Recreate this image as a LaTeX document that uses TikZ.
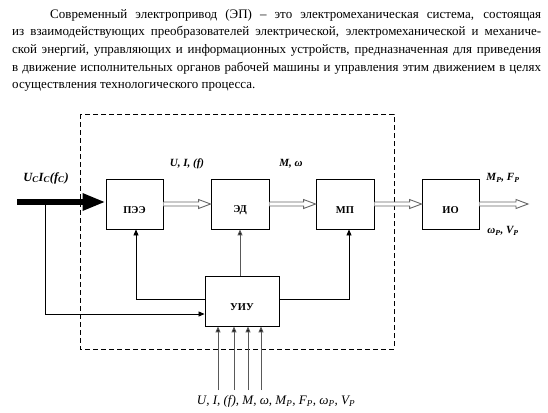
\documentclass[tikz,border=0pt]{standalone}
\usepackage{fontspec}
\setmainfont{Liberation Serif}
\usetikzlibrary{arrows.meta,calc}
\tikzset{
  blk/.style={draw=black,line width=0.9pt,minimum width=57pt,minimum height=50pt,inner sep=0pt,fill=white},
  blklbl/.style={font=\bfseries\fontsize{10.5}{12}\selectfont,inner sep=0pt},
  sig/.style={font=\bfseries\itshape\fontsize{11}{13}\selectfont,inner sep=0pt},
  sigr/.style={font=\itshape\fontsize{13}{15}\selectfont,inner sep=0pt},
  par/.style={font=\fontsize{13}{15}\selectfont,inner sep=0pt,anchor=base west},
  fb/.style={draw=black,line width=0.8pt,-{Triangle[length=6pt,width=5pt]}},
  fbg/.style={draw=black!65,line width=1pt,-{Triangle[length=6pt,width=5pt,fill=black]}},
  hol/.style={draw=black!60,line width=0.9pt,fill=white,line join=miter},
  frame/.style={draw=black,line width=0.8pt,dash pattern=on 5pt off 3pt}
}
\newcommand\holarrow[2]{%
  \draw[hol] ($(#1)+(0,-2)$) -- ($(#2)+(-12,-2)$) -- ($(#2)+(-12,-4.5)$) -- (#2)
     -- ($(#2)+(-12,4.5)$) -- ($(#2)+(-12,2)$) -- ($(#1)+(0,2)$);}
\begin{document}
\begin{tikzpicture}[x=1pt,y=-1pt]
\useasboundingbox (0,0) rectangle (548,412);
% paragraph
\node[par] (l1) at (50,18.5) {\makebox[491pt][s]{Современный электропривод (ЭП) – это электромеханическая система, состоящая}};
\node[par] (l2) at (12,36) {\makebox[529pt][s]{из взаимодействующих преобразователей электрической, электромеханической и механиче-}};
\node[par] (l3) at (12,53.5) {\makebox[529pt][s]{ской энергий, управляющих и информационных устройств, предназначенная для приведения}};
\node[par] (l4) at (12,71) {\makebox[529pt][s]{в движение исполнительных органов рабочей машины и управления этим движением в целях}};
\node[par] (l5) at (12,88.5) {осуществления технологического процесса.};
% frame
\draw[frame] (80,114) rectangle (394,349);
% blocks
\node[blk] (pee) at (134.5,204) {};
\node[blk,minimum width=58pt] (ed) at (240,204) {};
\node[blk,minimum width=58pt] (mp) at (345,204) {};
\node[blk] (io) at (450.5,204) {};
\node[blk,minimum width=74pt] (uiu) at (242,301) {};
\node[blklbl] (peel) at ([yshift=-6pt]pee.center) {ПЭЭ};
\node[blklbl] (edl) at ([yshift=-6pt]ed.center) {ЭД};
\node[blklbl] (mpl) at ([yshift=-6pt]mp.center) {МП};
\node[blklbl] (iol) at ([yshift=-6pt]io.center) {ИО};
\node[blklbl] (uiul) at ([yshift=-6pt]uiu.center) {УИУ};
% thick input
\coordinate (inp) at (17,202);
\coordinate (br) at (45,202);
\draw[line width=6pt,-{Triangle[length=23pt,width=16pt]}] (inp) -- (pee.west |- inp);
\node[sig,font=\bfseries\itshape\fontsize{12.5}{14}\selectfont] (uc) at (46,178) {U\textsubscript{C}I\textsubscript{C}(f\textsubscript{C})};
% hollow arrows
\holarrow{pee.east}{ed.west}
\holarrow{ed.east}{mp.west}
\holarrow{mp.east}{io.west}
\coordinate (out) at (528,204);
\holarrow{io.east}{out}
\node[sig] (s1) at (187,164) {U, I, (f)};
\node[sig] (s2) at (291,164) {M, ω};
\node[sig] (s3) at (503,178) {M\textsubscript{P}, F\textsubscript{P}};
\node[sig] (s4) at (503,231) {ω\textsubscript{P}, V\textsubscript{P}};
% feedback
\coordinate (fbl) at (136,299);
\coordinate (fbr) at (349,299);
\draw[fb] (uiu.west |- fbl) -- (fbl) -- (fbl |- pee.south);
\draw[fb] (uiu.east |- fbr) -- (fbr) -- (fbr |- mp.south);
\draw[fbg] (ed.south |- uiu.north) -- (ed.south);
\coordinate (brd) at (45,314);
\draw[fb] (br) -- (brd) -- (uiu.west |- brd);
% bottom inputs
\foreach \i/\x in {1/218,2/234,3/248,4/261}{
  \coordinate (b\i) at (\x,390);
  \draw[fbg] (b\i) -- (b\i |- uiu.south);
}
\node[sigr] (bl) at (276,401) {U, I, (f), M, ω, M\textsubscript{P}, F\textsubscript{P}, ω\textsubscript{P}, V\textsubscript{P}};
\end{tikzpicture}
\end{document}
